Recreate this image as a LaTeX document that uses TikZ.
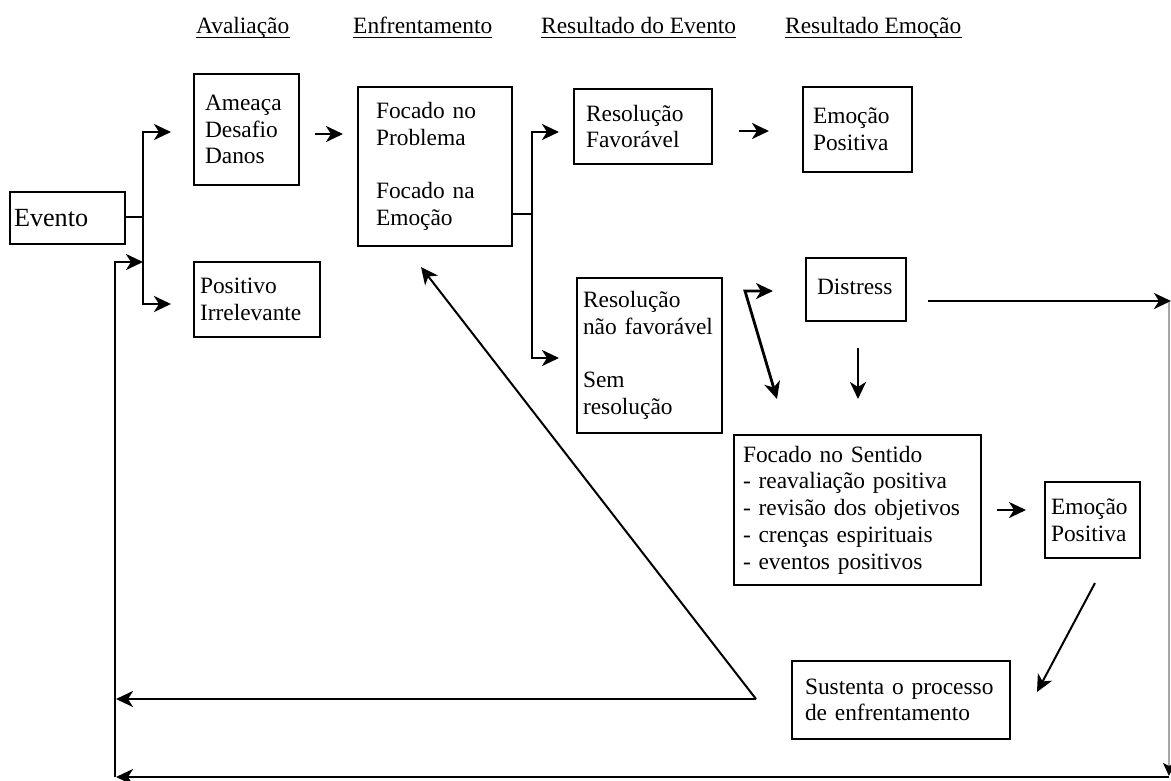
\documentclass[tikz,border=0pt]{standalone}
\usepackage{fontspec}
\setmainfont{Liberation Serif}
\usetikzlibrary{arrows.meta}
\newcommand\diagfont{\fontsize{23.4}{26.7}\selectfont}
\newcommand\bigdiagfont{\fontsize{26.2}{30}\selectfont}
\tikzset{
  tip/.tip={Stealth[length=17pt,width=16pt,inset=5pt]},
  box/.style={draw, rectangle, line width=2.8pt, align=left, inner ysep=0pt, font=\diagfont},
  hdr/.style={anchor=base west, inner sep=0pt, font=\diagfont},
  uline/.style={line width=1.5pt},
  arr/.style={line width=2.8pt, -tip},
  dblarr/.style={line width=2.8pt, tip-tip},
  thinarr/.style={line width=2pt, -tip},
  plain/.style={line width=2.8pt},
  grayarr/.style={line width=1.2pt, draw=gray!70, -{Stealth[length=13pt,width=12pt,inset=3pt,color=black]}}
}
\begin{document}
\begin{tikzpicture}[x=1pt, y=-1pt, line join=miter]
\useasboundingbox (0,0) rectangle (1171,780);

% column headings
\node[hdr] (h1) at (196,33) {Avaliação};
\node[hdr] (h2) at (353,33) {Enfrentamento};
\node[hdr] (h3) at (541,33) {Resultado do Evento};
\node[hdr] (h4) at (785,33) {Resultado Emoção};
\foreach \h in {h1,h2,h3,h4}
  \draw[uline] ([yshift=-4.5pt]\h.base west) -- ([yshift=-4.5pt]\h.base east);

% boxes
\node[box, font=\bigdiagfont, minimum width=115pt, minimum height=52pt, inner xsep=4pt, text width=107pt]
  (evento) at (67.5,218) {Evento};
\node[box, minimum width=105pt, minimum height=111pt, inner xsep=11pt, text width=83pt]
  (ameaca) at (246.5,129.5) {Ameaça\\Desafio\\Danos};
\node[box, minimum width=126pt, minimum height=75pt, inner xsep=6pt, text width=114pt]
  (positivo) at (257,299.5) {Positivo\\Irrelevante};
\node[box, minimum width=154pt, minimum height=159pt, inner xsep=18pt, text width=118pt]
  (focado) at (435,166.5) {Focado no\\Problema\\[26.7pt]Focado na\\Emoção};
\node[box, minimum width=138pt, minimum height=75pt, inner xsep=12pt, text width=114pt]
  (resfav) at (643,126.5) {Resolução\\Favorável};
\node[box, minimum width=109pt, minimum height=85pt, inner xsep=10pt, text width=89pt]
  (emopos1) at (857.5,129.5) {Emoção\\Positiva};
\node[box, minimum width=145pt, minimum height=155pt, inner xsep=6pt, text width=133pt]
  (resnao) at (649.5,355.5) {Resolução\\não favorável\\[26.7pt]Sem\\resolução};
\node[box, minimum width=100pt, minimum height=63pt, inner xsep=11pt, text width=78pt]
  (distress) at (856,289.5) {Distress\vphantom{g}};
\node[box, minimum width=247pt, minimum height=150pt, inner xsep=9pt, text width=229pt]
  (sentido) at (857.5,510) {Focado no Sentido\\- reavaliação positiva\\- revisão dos objetivos\\- crenças espirituais\\- eventos positivos};
\node[box, minimum width=95pt, minimum height=76pt, inner xsep=6pt, text width=83pt]
  (emopos2) at (1092.5,520) {Emoção\\Positiva};
\node[box, minimum width=218pt, minimum height=78pt, inner xsep=13pt, text width=192pt]
  (sustenta) at (901,700) {Sustenta o processo\\de enfrentamento};

% junctions and free ends of the connectors
\coordinate (ej) at (143,217);
\coordinate (toAmeaca) at (171,132);
\coordinate (toPositivo) at (171,304);
\coordinate (loopIn) at (143,262);
\coordinate (loopCorner) at (115,777);
\coordinate (aOut) at (315,134);
\coordinate (fIn) at (343,134);
\coordinate (fj) at (532,214);
\coordinate (toResfav) at (559,132);
\coordinate (toResnao) at (559,358);
\coordinate (rfOut) at (739,131);
\coordinate (epIn) at (769,131);
\coordinate (rnCorner) at (745,291);
\coordinate (toDistress) at (773,291);
\coordinate (toSentidoA) at (777,399);
\coordinate (dsDownA) at (858,348);
\coordinate (dsDownB) at (858,399);
\coordinate (dsRightA) at (928,301);
\coordinate (dsRightB) at (1171,301);
\coordinate (rightTop) at (1169,302);
\coordinate (rightBot) at (1169,776);
\coordinate (botRight) at (1169,777);
\coordinate (botLeft) at (116,777);
\coordinate (snOut) at (997,510);
\coordinate (ep2In) at (1026,510);
\coordinate (ep2Out) at (1095,583);
\coordinate (susIn) at (1037,692);
\coordinate (susOut) at (756,699);
\coordinate (backLeft) at (116,699);
\coordinate (backFocado) at (421,267);

% connectors
\draw[plain] (evento.east |- ej) -- (ej);
\draw[arr] (ej) |- (toAmeaca);
\draw[arr] (ej) |- (toPositivo);
\draw[arr] (loopCorner) |- (loopIn);
\draw[arr] (aOut) -- (fIn);
\draw[plain] (focado.east |- fj) -- (fj);
\draw[arr] (fj) |- (toResfav);
\draw[arr] (fj) |- (toResnao);
\draw[arr] (rfOut) -- (epIn);
\draw[dblarr] (toSentidoA) -- (rnCorner) -- (toDistress);
\draw[arr] (dsDownA) -- (dsDownB);
\draw[arr] (dsRightA) -- (dsRightB);
\draw[grayarr] (rightTop) -- (rightBot);
\draw[arr] (botRight) -- (botLeft);
\draw[arr] (snOut) -- (ep2In);
\draw[thinarr] (ep2Out) -- (susIn);
\draw[arr] (susOut) -- (backLeft);
\draw[thinarr] (susOut) -- (backFocado);
\end{tikzpicture}
\end{document}
